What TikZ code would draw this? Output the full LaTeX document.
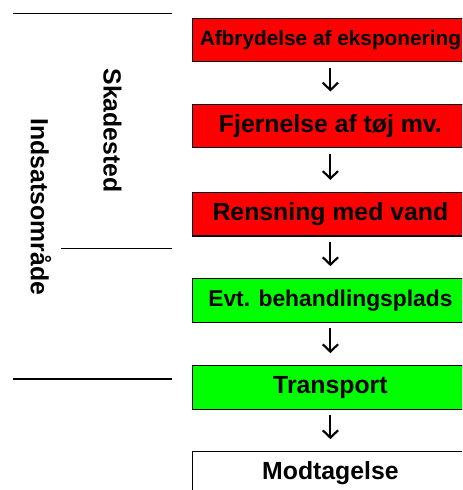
\documentclass[tikz,border=0pt]{standalone}
\usepackage{fontspec}
\setmainfont{Liberation Sans}
\usetikzlibrary{arrows.meta}

\tikzset{
  box/.style={draw, line width=1pt, minimum width=206.5pt, minimum height=32.6pt,
    inner sep=0pt, font=\bfseries\fontsize{18.6}{22}\selectfont},
  flow/.style={-{Straight Barb[length=5.5pt,width=11.5pt,line width=1.6pt]}, line width=1.6pt,
    shorten <=4pt, shorten >=9pt},
  side/.style={rotate=-90, font=\bfseries\fontsize{18.6}{22}\selectfont}
}

\begin{document}
\begin{tikzpicture}[x=0.75pt,y=-0.75pt]
\useasboundingbox (0,0) rectangle (462,490);
\clip (0,0) rectangle (462,490);

% Boxes
\node[box,fill=red,font=\bfseries\fontsize{15.6}{18}\selectfont] (afb) at (330.4,40) {Afbrydelse af eksponering};
\node[box,fill=red] (fjern) at (330.4,125.9) {Fjernelse af tøj mv.};
\node[box,fill=red] (rens) at (330.4,214.3) {Rensning med vand};
\node[box,fill=green,font=\bfseries\fontsize{17.1}{20}\selectfont] (beh) at (330.4,300.5) {Evt. behandlingsplads};
\node[box,fill=green] (trans) at (330.4,387.5) {Transport};
\node[box] (modt) at (330.4,473.5) {Modtagelse};

% Arrows
\draw[flow] (afb) -- (fjern);
\draw[flow] (fjern) -- (rens);
\draw[flow] (rens) -- (beh);
\draw[flow] (beh) -- (trans);
\draw[flow] (trans) -- (modt);

% Areas
\draw[line width=1pt] (12.7,13.3) -- (172,13.3);
\draw[line width=1pt] (61,248.3) -- (172,248.3);
\draw[line width=1pt] (12.7,379) -- (172,379);
\node[side] (sk) at (112.5,130.5) {Skadested};
\node[side] (ind) at (41,207) {Indsatsområde};
\end{tikzpicture}
\end{document}
